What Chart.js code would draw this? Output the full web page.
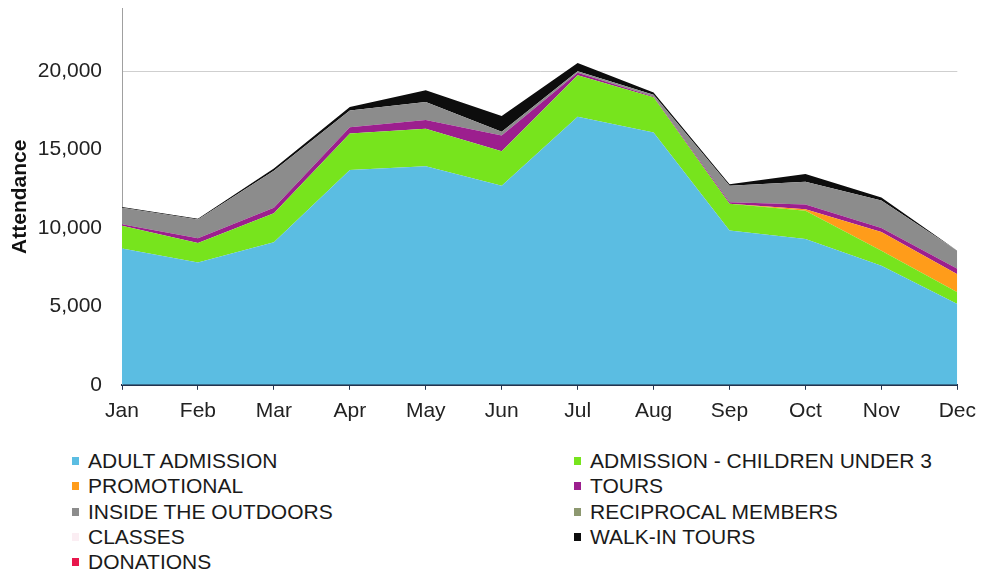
<!DOCTYPE html>
<html>
<head>
<meta charset="utf-8">
<script src="https://cdn.jsdelivr.net/npm/chart.js@4.4.0/dist/chart.umd.min.js"></script>
<style>
  body { margin: 0; background: #fff; font-family: "Liberation Sans", Arial, sans-serif; overflow: hidden; }
  #wrap { position: absolute; top: -24px; left: 0; width: 985px; height: 465px; }
  #legend { position: absolute; top: 448px; left: 0; width: 985px; height: 127px; }
  .item { position: absolute; font-size: 21px; line-height: 25px; color: #1a1a1a; white-space: nowrap; }
  .item .box { position: absolute; left: -16px; top: 9px; width: 7px; height: 8px; }
</style>
</head>
<body>
<div id="wrap"><canvas id="myChart" width="985" height="465"></canvas></div>
<div id="legend"></div>
<script>
const months = ['Jan', 'Feb', 'Mar', 'Apr', 'May', 'Jun', 'Jul', 'Aug', 'Sep', 'Oct', 'Nov', 'Dec'];

const adult       = [8700, 7800, 9100, 13700, 13950, 12700, 17100, 16100, 9850, 9300, 7600, 5150];
const children    = [1450, 1250, 1850, 2330, 2380, 2200, 2650, 2250, 1700, 1800, 950, 750];
const promotional = [0, 0, 0, 0, 0, 0, 0, 0, 0, 100, 1200, 1150];
const tours       = [100, 300, 350, 400, 570, 1000, 150, 50, 100, 300, 250, 350];
const inside      = [1050, 1200, 2350, 1070, 1140, 250, 100, 100, 1050, 1450, 1750, 1150];
const reciprocal  = [0, 0, 0, 0, 0, 0, 0, 0, 0, 0, 0, 0];
const classes     = [0, 0, 0, 0, 0, 0, 0, 0, 0, 0, 0, 0];
const walkIn      = [50, 50, 150, 220, 750, 1000, 530, 150, 100, 500, 200, 0];
const donations   = [0, 0, 0, 0, 0, 0, 0, 0, 0, 0, 0, 0];

const yTicks = [0, 5000, 10000, 15000, 20000];

const series = [
  ['ADULT ADMISSION', adult, '#5bbde2'],
  ['ADMISSION - CHILDREN UNDER 3', children, '#77e41d'],
  ['PROMOTIONAL', promotional, '#ff9c1a'],
  ['TOURS', tours, '#9c1f8e'],
  ['INSIDE THE OUTDOORS', inside, '#8c8c8c'],
  ['RECIPROCAL MEMBERS', reciprocal, '#8d9870'],
  ['CLASSES', classes, '#fbeef3'],
  ['WALK-IN TOURS', walkIn, '#0d0d0d'],
  ['DONATIONS', donations, '#e8174c']
];

const data = {
  labels: months,
  datasets: series.map(([label, values, color], i) => ({
    label,
    data: values,
    backgroundColor: color,
    borderColor: color,
    borderWidth: 0,
    pointRadius: 0,
    tension: 0,
    fill: i === 0 ? 'origin' : '-1'
  }))
};

// config
const config = {
  type: 'line',
  data,
  options: {
    responsive: false,
    animation: false,
    layout: { padding: { top: 8, right: 22, bottom: 8, left: 0 } },
    plugins: { legend: { display: false }, tooltip: { enabled: false } },
    scales: {
      x: {
        offset: false,
        grid: { drawOnChartArea: false, drawTicks: true, tickLength: 5, color: '#23344f' },
        border: { color: '#23344f', width: 2 },
        ticks: { color: '#222', padding: 9, maxRotation: 0, font: { family: 'Liberation Sans', size: 21 } }
      },
      y: {
        stacked: true,
        min: 0,
        max: 24000,
        afterBuildTicks: scale => {
          scale.ticks = yTicks.map(v => ({ value: v }));
        },
        afterFit: scale => { scale.width = 122; },
        grid: {
          drawTicks: false,
          color: ctx => (ctx.tick && ctx.tick.value === 20000 ? '#cfcfcf' : 'rgba(0,0,0,0)')
        },
        border: { color: '#a0a0a0', width: 1 },
        ticks: {
          color: '#222',
          padding: 20,
          font: { family: 'Liberation Sans', size: 21 },
          callback: v => v.toLocaleString('en-US')
        },
        title: {
          display: true,
          text: 'Attendance',
          color: '#111',
          padding: { top: 8 },
          font: { family: 'Liberation Sans', size: 21, weight: 'bold' }
        }
      }
    }
  }
};

// render init block
const myChart = new Chart(document.getElementById('myChart'), config);

// legend in two columns, row by row
const legend = document.getElementById('legend');
myChart.data.datasets.forEach((ds, i) => {
  const item = document.createElement('div');
  item.className = 'item';
  item.style.left = (i % 2 === 0 ? 88 : 590) + 'px';
  item.style.top = (Math.floor(i / 2) * 25.3) + 'px';
  const box = document.createElement('span');
  box.className = 'box';
  box.style.background = ds.backgroundColor;
  item.appendChild(box);
  item.appendChild(document.createTextNode(ds.label));
  legend.appendChild(item);
});
</script>
</body>
</html>
